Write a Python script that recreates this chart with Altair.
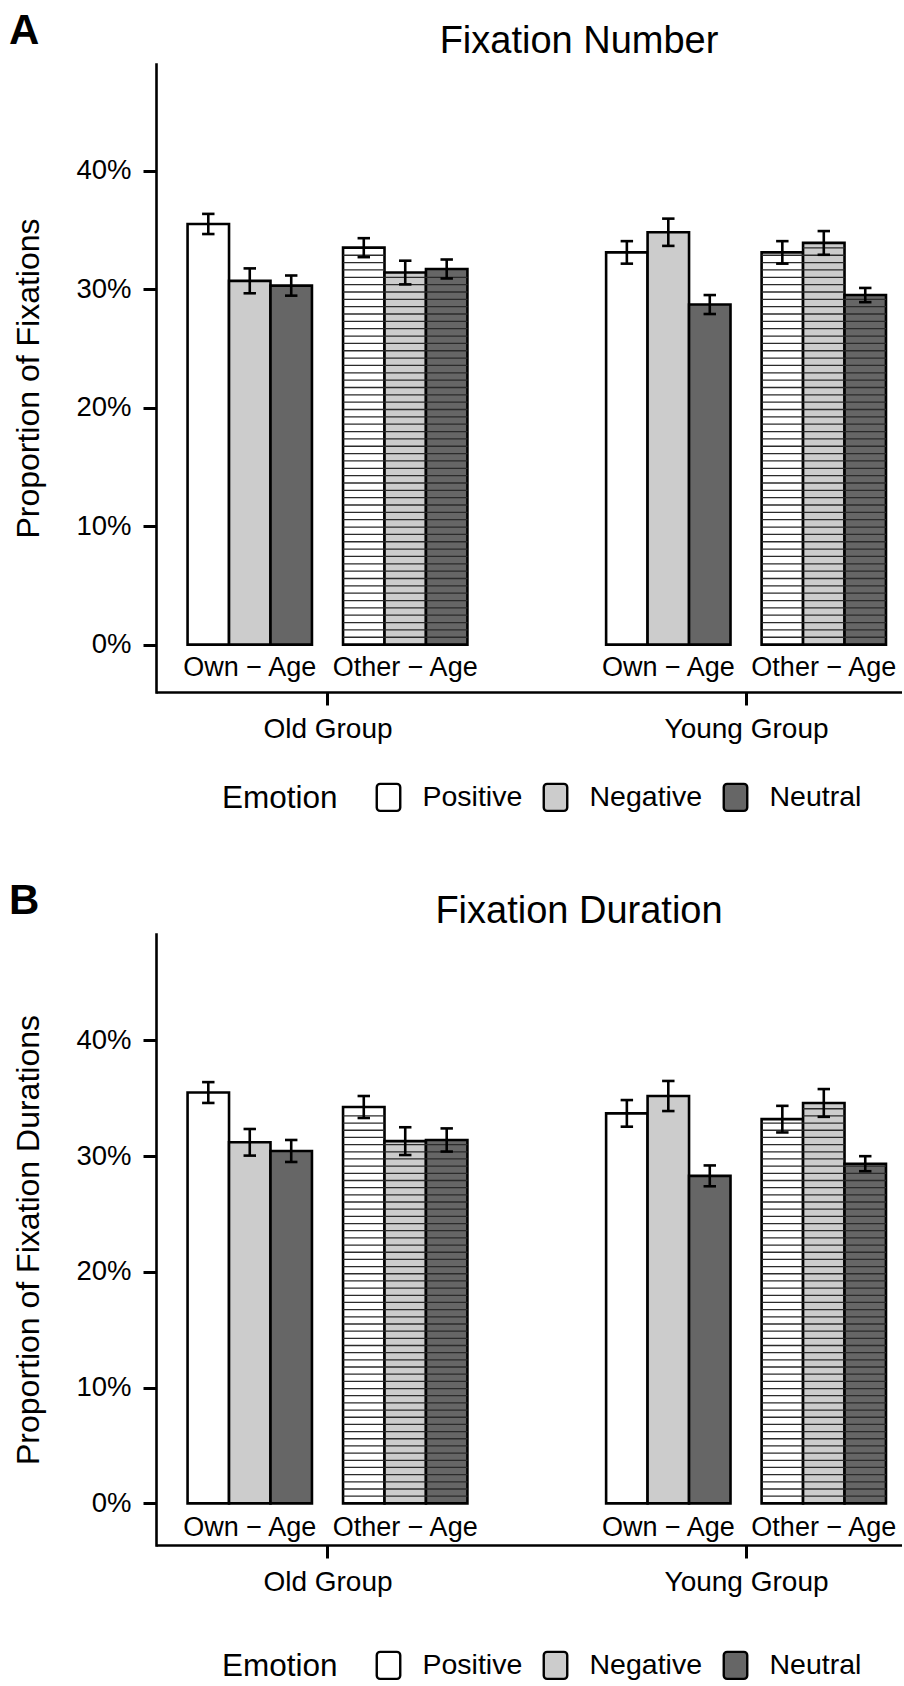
import altair as alt
import pandas as pd

GROUPS = ["Old Group", "Young Group"]
FACES = ["Own − Age", "Other − Age"]
EMOTIONS = ["Positive", "Negative", "Neutral"]
EMOTION_FILLS = ["#FFFFFF", "#CCCCCC", "#666666"]

# Mean proportion (%) and standard error, ordered group -> face -> emotion
NUMBER_MEAN = [35.5, 30.7, 30.3, 33.5, 31.4, 31.7, 33.1, 34.8, 28.7, 33.1, 33.9, 29.5]
NUMBER_SE = [0.85, 1.05, 0.85, 0.8, 1.0, 0.8, 0.95, 1.15, 0.8, 0.95, 1.0, 0.6]
DURATION_MEAN = [35.5, 31.2, 30.45, 34.25, 31.3, 31.4, 33.7, 35.2, 28.3, 33.2, 34.6, 29.35]
DURATION_SE = [0.9, 1.15, 0.95, 0.95, 1.2, 1.0, 1.15, 1.3, 0.9, 1.15, 1.2, 0.65]

Y_TICKS = [0, 0.1, 0.2, 0.3, 0.4]

# layout of the dodged bars (x in "face slot" units)
FONT = "Liberation Sans"
GROUP_STEP = 2.692
DODGE = 0.8 / 3
CAP_HALF = 0.04
STRIPE_STEP = 0.0062
X_DOMAIN = [0.397, 5.195]
PLOT_W = 746

ROUNDED_BOX = ("M-0.87,-0.75 A0.25,0.25 0 0 1 -0.62,-1 L0.62,-1 "
               "A0.25,0.25 0 0 1 0.87,-0.75 L0.87,0.75 A0.25,0.25 0 0 1 0.62,1 "
               "L-0.62,1 A0.25,0.25 0 0 1 -0.87,0.75 Z")


def tables(means, ses, label_y):
    bars, stripes, faces = [], [], []
    i = 0
    for g, group in enumerate(GROUPS):
        for f, face in enumerate(FACES):
            faces.append({"face": face, "x": 1 + g * GROUP_STEP + f, "y": label_y})
            for e, emotion in enumerate(EMOTIONS):
                c = 1 + g * GROUP_STEP + f + (e - 1) * DODGE
                v = means[i] / 100
                s = ses[i] / 100
                bars.append(dict(group=group, face=face, emotion=emotion, value=v,
                                 base=0.0, lo=v - s, hi=v + s, x=c,
                                 x0=c - DODGE / 2, x1=c + DODGE / 2,
                                 c0=c - CAP_HALF, c1=c + CAP_HALF))
                if f == 1:
                    # horizontal hatching for other-age faces
                    k = 1
                    while k * STRIPE_STEP < v - 0.002:
                        stripes.append(dict(x0=c - DODGE / 2, x1=c + DODGE / 2,
                                            y=k * STRIPE_STEP))
                        k += 1
                i += 1
    return pd.DataFrame(bars), pd.DataFrame(stripes), pd.DataFrame(faces)


def panel(tag, title, ytitle, means, ses, height, y_domain, label_y, legend_gap):
    bars, stripes, faces = tables(means, ses, label_y)
    xs = alt.Scale(domain=X_DOMAIN, nice=False, zero=False)
    ys = alt.Scale(domain=y_domain, nice=False, zero=False)
    group_ticks = [1 + g * GROUP_STEP + 0.5 for g in range(len(GROUPS))]
    mid = (group_ticks[0] + group_ticks[1]) / 2
    label_expr = f"datum.value < {mid} ? '{GROUPS[0]}' : '{GROUPS[1]}'"
    x_axis = alt.Axis(values=group_ticks, labelExpr=label_expr, title=None, grid=False,
                      domainWidth=2.6, domainCap="butt", tickWidth=3, tickSize=13,
                      labelFontSize=28, labelPadding=10)
    y_axis = alt.Axis(values=Y_TICKS, format=".0%", title=ytitle, grid=False,
                      domainWidth=2.6, domainCap="square", tickWidth=3, tickSize=13,
                      labelFontSize=27.5, labelPadding=12,
                      titleFontSize=32, titleFontWeight="normal", titlePadding=30)

    legend = alt.Legend(orient="none", legendX=66, legendY=height + legend_gap,
                        direction="horizontal", title="Emotion", titleOrient="left",
                        titleFontSize=31.5, titleFontWeight="normal", titlePadding=35.5,
                        titleBaseline="middle", titleAnchor="middle",
                        labelFontSize=28.5, labelOffset=19, columnPadding=16,
                        symbolType=ROUNDED_BOX, symbolSize=729,
                        symbolStrokeColor="black", symbolStrokeWidth=2.4)

    bar_layer = alt.Chart(bars).mark_bar(stroke="black", strokeWidth=2.6).encode(
        x=alt.X("x0:Q", scale=xs, axis=x_axis), x2="x1:Q",
        y=alt.Y("value:Q", scale=ys, axis=y_axis), y2="base:Q",
        fill=alt.Fill("emotion:N", sort=EMOTIONS,
                      scale=alt.Scale(domain=EMOTIONS, range=EMOTION_FILLS),
                      legend=legend),
    )
    stripe_layer = alt.Chart(stripes).mark_rule(color="#2b2b2b", strokeWidth=1.3).encode(
        x=alt.X("x0:Q", scale=xs, axis=x_axis), x2="x1:Q",
        y=alt.Y("y:Q", scale=ys, axis=y_axis),
    )
    err_layer = alt.Chart(bars).mark_rule(color="black", strokeWidth=2.6).encode(
        x=alt.X("x:Q", scale=xs, axis=x_axis),
        y=alt.Y("lo:Q", scale=ys, axis=y_axis), y2="hi:Q",
    )
    cap_lo = alt.Chart(bars).mark_rule(color="black", strokeWidth=2.6).encode(
        x=alt.X("c0:Q", scale=xs, axis=x_axis), x2="c1:Q",
        y=alt.Y("lo:Q", scale=ys, axis=y_axis),
    )
    cap_hi = alt.Chart(bars).mark_rule(color="black", strokeWidth=2.6).encode(
        x=alt.X("c0:Q", scale=xs, axis=x_axis), x2="c1:Q",
        y=alt.Y("hi:Q", scale=ys, axis=y_axis),
    )
    face_layer = alt.Chart(faces).mark_text(font=FONT, fontSize=27, color="black",
                                            align="center", baseline="middle").encode(
        x=alt.X("x:Q", scale=xs, axis=x_axis),
        y=alt.Y("y:Q", scale=ys, axis=y_axis),
        text="face:N",
    )
    heading = pd.DataFrame({"tag": [tag], "title": [title]})
    tag_layer = alt.Chart(heading).mark_text(
        font=FONT, fontSize=42, fontWeight="bold", color="black",
        align="left", baseline="alphabetic").encode(
        x=alt.value(-147), y=alt.value(-19.7), text="tag:N")
    title_layer = alt.Chart(heading).mark_text(
        font=FONT, fontSize=38, color="black",
        align="center", baseline="alphabetic").encode(
        x=alt.value(423), y=alt.value(-11.3), text="title:N")

    return alt.layer(bar_layer, stripe_layer, err_layer, cap_lo, cap_hi,
                     face_layer, tag_layer, title_layer).properties(
        width=PLOT_W, height=height,
    )


panel_a = panel("A", "Fixation Number", "Proportion of Fixations",
                NUMBER_MEAN, NUMBER_SE, 628, [-0.04, 0.49], -0.02, 90)
panel_b = panel("B", "Fixation Duration", "Proportion of Fixation Durations",
                DURATION_MEAN, DURATION_SE, 611, [-0.036, 0.492], -0.021, 105)

chart = alt.vconcat(panel_a, panel_b, spacing=64).resolve_scale(
    fill="independent"
).properties(
    padding={"left": 9, "top": 10, "right": 0, "bottom": 0}
).configure(font=FONT).configure_view(stroke=None).configure_axis(
    labelColor="black", titleColor="black", tickColor="black", domainColor="black",
    labelFont=FONT, titleFont=FONT,
).configure_legend(labelColor="black", titleColor="black", labelFont=FONT, titleFont=FONT)

chart.save("out.html", embed_options={"renderer": "svg", "actions": False})
